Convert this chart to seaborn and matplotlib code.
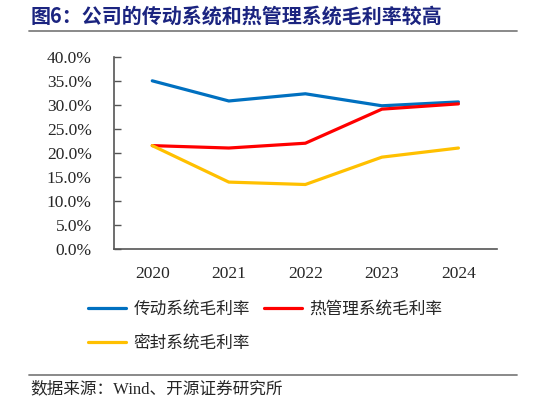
import numpy as np
import pandas as pd
import matplotlib.pyplot as plt
from matplotlib.lines import Line2D
from matplotlib.ticker import FixedLocator, PercentFormatter
import seaborn as sns

# Data (gross margin, %)
years = ["2020", "2021", "2022", "2023", "2024"]
transmission = [35.1, 30.9, 32.4, 29.9, 30.7]
thermal = [21.6, 21.1, 22.1, 29.2, 30.3]
sealing = [21.6, 14.0, 13.5, 19.2, 21.1]
series_names = ["传动系统毛利率", "热管理系统毛利率", "密封系统毛利率"]
colors = ["#0070C0", "#FF0000", "#FFC000"]

df = pd.DataFrame(
    {
        "年份": years * 3,
        "毛利率": transmission + thermal + sealing,
        "系列": [series_names[0]] * 5 + [series_names[1]] * 5 + [series_names[2]] * 5,
    }
)

sns.set_style("white")
plt.rcParams["font.family"] = ["Liberation Serif", "Noto Sans CJK SC", "DejaVu Sans"]
cjk = ["Noto Sans CJK SC", "DejaVu Sans"]

fig = plt.figure(figsize=(5.46, 4.04), dpi=100)
ax = fig.add_axes([114 / 546, 1 - 249.3 / 404, (496.7 - 114) / 546, (249.3 - 57.3) / 404])

sns.lineplot(
    data=df, x="年份", y="毛利率", hue="系列", palette=colors,
    linewidth=2.3, ax=ax, legend=False, sort=False,
)

ax.set_xlim(-0.5, 4.5)
ax.set_ylim(0, 40)
ax.set_yticks(np.arange(0, 40.1, 5))
ax.yaxis.set_major_formatter(PercentFormatter(decimals=1))
ax.set_xlabel("")
ax.set_ylabel("")

# category axis: labels at centres, tick marks between categories
ax.set_xticks(range(len(years)))
ax.set_xticklabels(years)
ax.xaxis.set_minor_locator(FixedLocator(np.arange(-0.5, 4.6, 1)))
ax.tick_params(axis="x", which="major", length=0, pad=12, labelsize=12.5)
ax.tick_params(axis="x", which="minor", direction="in", length=5, width=1, color="#555555")
ax.tick_params(axis="y", which="major", direction="in", length=5, width=1,
               color="#555555", pad=16, labelsize=12.5, left=True)

for s in ["top", "right"]:
    ax.spines[s].set_visible(False)
for s in ["left", "bottom"]:
    ax.spines[s].set_color("#555555")
    ax.spines[s].set_linewidth(1.2)

# title and rules
fig.text(31 / 546, 1 - 16 / 404, "图6：公司的传动系统和热管理系统毛利率较高",
         family=cjk, fontsize=14.4, fontweight="bold", color="#1B2480",
         va="center", ha="left")
fig.add_artist(Line2D([29 / 546, 517 / 546], [1 - 30.5 / 404] * 2,
                      color="#808080", linewidth=1.3))
fig.add_artist(Line2D([29 / 546, 517 / 546], [1 - 375 / 404] * 2,
                      color="#808080", linewidth=1.3))
fig.text(30 / 546, 1 - 389 / 404, "数据来源：Wind、开源证券研究所",
         family=["Liberation Serif", "Noto Sans CJK SC"], fontsize=12,
         va="center", ha="left")

# legend filled row by row: blue, red / yellow
order = [0, 2, 1]
handles = [Line2D([], [], color=colors[i], linewidth=2.3) for i in order]
labels = [series_names[i] for i in order]
leg = fig.legend(
    handles, labels, ncol=2, loc="upper left",
    bbox_to_anchor=(88 / 546, 1 - 301 / 404), frameon=False,
    borderpad=0, borderaxespad=0, handlelength=2.3, handletextpad=0.45,
    columnspacing=0.8, labelspacing=1.0, prop={"family": cjk, "size": 12},
)

fig.savefig("out.png", dpi=100)
